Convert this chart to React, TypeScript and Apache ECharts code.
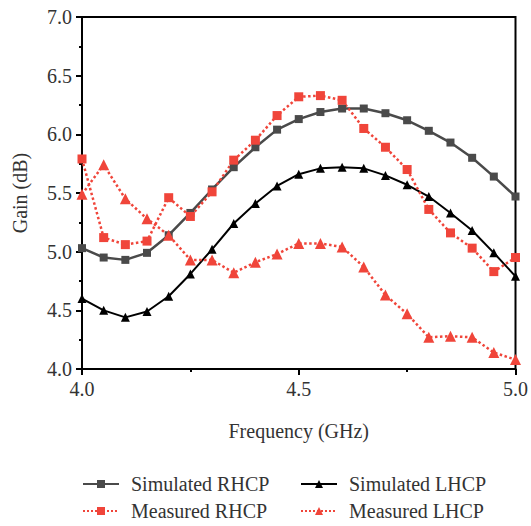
import React, { useEffect, useRef } from "react";
import * as echarts from "echarts";

const freqs = [4.0, 4.05, 4.1, 4.15, 4.2, 4.25, 4.3, 4.35, 4.4, 4.45, 4.5, 4.55, 4.6, 4.65, 4.7, 4.75, 4.8, 4.85, 4.9, 4.95, 5.0];
const simRHCP = [5.03, 4.95, 4.93, 4.99, 5.14, 5.33, 5.53, 5.72, 5.89, 6.04, 6.13, 6.19, 6.22, 6.22, 6.18, 6.12, 6.03, 5.93, 5.8, 5.64, 5.47];
const simLHCP = [4.6, 4.5, 4.44, 4.49, 4.62, 4.81, 5.02, 5.24, 5.41, 5.56, 5.66, 5.71, 5.72, 5.71, 5.65, 5.57, 5.47, 5.33, 5.18, 4.99, 4.79];
const measRHCP = [5.79, 5.12, 5.06, 5.09, 5.46, 5.3, 5.51, 5.78, 5.95, 6.16, 6.32, 6.33, 6.29, 6.05, 5.89, 5.7, 5.36, 5.16, 5.03, 4.83, 4.95];
const measLHCP = [5.49, 5.74, 5.45, 5.28, 5.14, 4.93, 4.93, 4.82, 4.91, 4.98, 5.07, 5.07, 5.04, 4.87, 4.63, 4.47, 4.27, 4.28, 4.27, 4.14, 4.08];

const FONT = "Liberation Serif";
const RED = "#f0453a";
const GRAY = "#4a4a4a";

const pair = (ys: number[]) => freqs.map((f, i) => [f, ys[i]]);

export default function App() {
  const ref = useRef<HTMLDivElement>(null);
  useEffect(() => {
    if (!ref.current) return;
    const chart = echarts.init(ref.current, null, { renderer: "svg" });
    const axisCommon = {
      axisLine: { lineStyle: { color: "#000", width: 2 } },
      axisTick: { show: true, inside: false, length: 6, lineStyle: { color: "#000", width: 2 } },
      minorTick: { show: true, splitNumber: 2, length: 3, lineStyle: { color: "#000", width: 2 } },
      splitLine: { show: false },
      axisLabel: { color: "#333", fontFamily: FONT, fontSize: 20, formatter: (v: number) => v.toFixed(1) },
      nameTextStyle: { color: "#333", fontFamily: FONT, fontSize: 20 },
    };
    const legendItem = (name: string, left: number, top: number) => ({
      orient: "horizontal",
      left,
      top,
      padding: 0,
      itemWidth: 36,
      itemHeight: 10,
      textStyle: { color: "#333", fontFamily: FONT, fontSize: 20, padding: [0, 0, 0, 7] },
      data: [name],
    });
    chart.setOption({
      animation: false,
      backgroundColor: "#fff",
      grid: { left: 82, right: 12, top: 17, bottom: 157, show: true, borderColor: "#000", borderWidth: 2 },
      xAxis: {
        type: "value",
        min: 4,
        max: 5,
        interval: 0.5,
        name: "Frequency (GHz)",
        nameLocation: "middle",
        nameGap: 52,
        ...axisCommon,
        axisLabel: { ...axisCommon.axisLabel, margin: 10 },
      },
      yAxis: {
        type: "value",
        min: 4,
        max: 7,
        interval: 0.5,
        name: "Gain (dB)",
        nameLocation: "middle",
        nameGap: 52,
        ...axisCommon,
        axisLabel: { ...axisCommon.axisLabel, margin: 10 },
      },
      legend: [
        legendItem("Simulated RHCP", 82, 474),
        legendItem("Simulated LHCP", 300, 474),
        legendItem("Measured RHCP", 82, 501),
        legendItem("Measured LHCP", 300, 501),
      ],
      series: [
        {
          name: "Simulated RHCP",
          type: "line",
          data: pair(simRHCP),
          symbol: "rect",
          symbolSize: 8,
          itemStyle: { color: GRAY },
          lineStyle: { color: GRAY, width: 2.5 },
        },
        {
          name: "Simulated LHCP",
          type: "line",
          data: pair(simLHCP),
          symbol: "triangle",
          symbolSize: 9,
          itemStyle: { color: "#000" },
          lineStyle: { color: "#000", width: 2 },
        },
        {
          name: "Measured RHCP",
          type: "line",
          data: pair(measRHCP),
          symbol: "rect",
          symbolSize: 9,
          itemStyle: { color: RED },
          lineStyle: { color: RED, width: 2.5, type: "dotted" },
        },
        {
          name: "Measured LHCP",
          type: "line",
          data: pair(measLHCP),
          symbol: "triangle",
          symbolSize: 11,
          itemStyle: { color: RED },
          lineStyle: { color: RED, width: 2.5, type: "dotted" },
        },
      ],
    });
    return () => chart.dispose();
  }, []);
  return <div ref={ref} style={{ width: 531, height: 526, position: "absolute", left: 0, top: 0 }} />;
}
